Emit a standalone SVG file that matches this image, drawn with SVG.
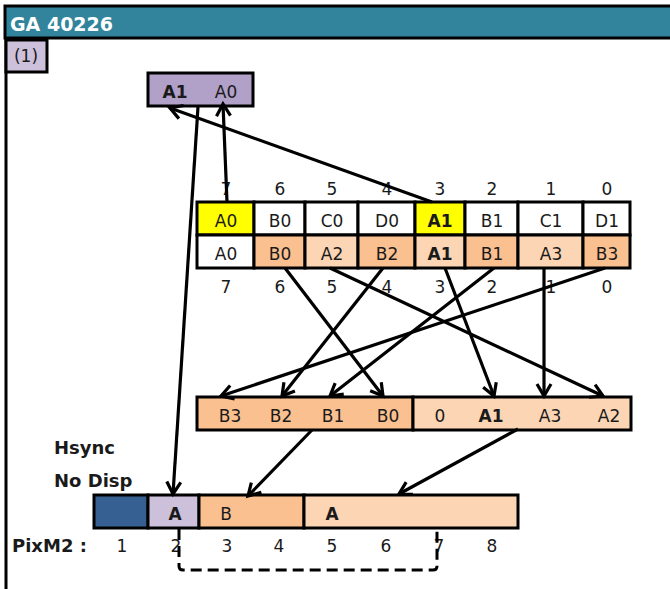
<svg xmlns="http://www.w3.org/2000/svg" width="670" height="589" viewBox="0 0 670 589">
<style>
.t{font-family:"DejaVu Sans",sans-serif;font-size:17px;fill:#1a1a1a;text-anchor:middle}
.b{font-weight:bold}
.l{font-family:"DejaVu Sans",sans-serif;font-size:18px;font-weight:bold;fill:#1a1a1a}
.bx{stroke:#000;stroke-width:3}
.ln{stroke:#000;stroke-width:3.2;fill:none;marker-end:url(#ah)}
</style>
<defs>
<marker id="ah" markerUnits="userSpaceOnUse" markerWidth="30" markerHeight="30" refX="0" refY="0" orient="auto" overflow="visible">
<path d="M-12,-7 L0,0 L-12,7" fill="none" stroke="#000" stroke-width="3.2" stroke-linejoin="miter"/>
</marker>
</defs>
<rect width="670" height="589" fill="#fff"/>
<g id="header">
<rect x="5" y="6" width="667" height="32" fill="#31849B" stroke="#000" stroke-width="3"/>
<text x="10" y="31" style="font-family:'DejaVu Sans',sans-serif;font-size:19px;font-weight:bold;fill:#fff">GA 40226</text>
</g>
<line x1="6" y1="38" x2="6" y2="589" stroke="#000" stroke-width="3"/>
<g id="step">
<rect x="6" y="40" width="41" height="32" fill="#CCC0DA" class="bx"/>
<text x="26" y="62" class="t">(1)</text>
</g>
<g id="topbox">
<rect x="148" y="73" width="105" height="33" fill="#B1A0C7" class="bx"/>
<text x="175" y="98" class="t b">A1</text>
<text x="226" y="98" class="t">A0</text>
</g>
<g id="table">
<g class="bx">
<rect x="197" y="202" width="57" height="33" fill="#FFFF00"/>
<rect x="254" y="202" width="51" height="33" fill="#fff"/>
<rect x="305" y="202" width="53" height="33" fill="#fff"/>
<rect x="358" y="202" width="57" height="33" fill="#fff"/>
<rect x="415" y="202" width="50" height="33" fill="#FFFF00"/>
<rect x="465" y="202" width="53" height="33" fill="#fff"/>
<rect x="518" y="202" width="65" height="33" fill="#fff"/>
<rect x="583" y="202" width="47" height="33" fill="#fff"/>
<rect x="197" y="235" width="57" height="33" fill="#fff"/>
<rect x="254" y="235" width="51" height="33" fill="#FAC090"/>
<rect x="305" y="235" width="53" height="33" fill="#FCD5B4"/>
<rect x="358" y="235" width="57" height="33" fill="#FAC090"/>
<rect x="415" y="235" width="50" height="33" fill="#FCD5B4"/>
<rect x="465" y="235" width="53" height="33" fill="#FAC090"/>
<rect x="518" y="235" width="65" height="33" fill="#FCD5B4"/>
<rect x="583" y="235" width="47" height="33" fill="#FAC090"/>
</g>
<text x="226" y="195" class="t">7</text><text x="280" y="195" class="t">6</text><text x="332" y="195" class="t">5</text><text x="387" y="195" class="t">4</text><text x="440" y="195" class="t">3</text><text x="492" y="195" class="t">2</text><text x="551" y="195" class="t">1</text><text x="607" y="195" class="t">0</text>
<text x="226" y="227" class="t">A0</text><text x="280" y="227" class="t">B0</text><text x="332" y="227" class="t">C0</text><text x="387" y="227" class="t">D0</text><text x="440" y="227" class="t b">A1</text><text x="492" y="227" class="t">B1</text><text x="551" y="227" class="t">C1</text><text x="607" y="227" class="t">D1</text>
<text x="226" y="260" class="t">A0</text><text x="280" y="260" class="t">B0</text><text x="332" y="260" class="t">A2</text><text x="387" y="260" class="t">B2</text><text x="440" y="260" class="t b">A1</text><text x="492" y="260" class="t">B1</text><text x="551" y="260" class="t">A3</text><text x="607" y="260" class="t">B3</text>
<text x="226" y="293" class="t">7</text><text x="280" y="293" class="t">6</text><text x="332" y="293" class="t">5</text><text x="387" y="293" class="t">4</text><text x="440" y="293" class="t">3</text><text x="492" y="293" class="t">2</text><text x="551" y="293" class="t">1</text><text x="607" y="293" class="t">0</text>
</g>
<g id="midrow">
<rect x="197" y="397" width="216" height="33" fill="#FAC090" class="bx"/>
<rect x="413" y="397" width="218" height="33" fill="#FCD5B4" class="bx"/>
<text x="230" y="422" class="t">B3</text><text x="281" y="422" class="t">B2</text><text x="333" y="422" class="t">B1</text><text x="388" y="422" class="t">B0</text>
<text x="440" y="422" class="t">0</text><text x="491" y="422" class="t b">A1</text><text x="550" y="422" class="t">A3</text><text x="609" y="422" class="t">A2</text>
</g>
<g id="labels">
<text x="54" y="454" class="l">Hsync</text>
<text x="54" y="487" class="l">No Disp</text>
<text x="12" y="552" class="l">PixM2 :</text>
</g>
<g id="bar">
<rect x="94" y="495" width="54" height="33" fill="#366092" class="bx"/>
<rect x="148" y="495" width="51" height="33" fill="#CCC0DA" class="bx"/>
<rect x="199" y="495" width="105" height="33" fill="#FAC090" class="bx"/>
<rect x="304" y="495" width="214" height="33" fill="#FCD5B4" class="bx"/>
<text x="175" y="520" class="t b">A</text><text x="226" y="520" class="t">B</text><text x="332" y="520" class="t b">A</text>
<text x="122" y="552" class="t">1</text><text x="176" y="552" class="t">2</text><text x="227" y="552" class="t">3</text><text x="279" y="552" class="t">4</text><text x="332" y="552" class="t">5</text><text x="386" y="552" class="t">6</text><text x="439" y="552" class="t">7</text><text x="492" y="552" class="t">8</text>
</g>
<g id="connectors">
<line class="ln" x1="432" y1="202" x2="170" y2="108"/>
<line class="ln" x1="227" y1="202" x2="223" y2="104"/>
<line class="ln" x1="198" y1="107" x2="173" y2="494"/>
<line class="ln" x1="285" y1="268" x2="383" y2="396"/>
<line class="ln" x1="330" y1="268" x2="603" y2="396"/>
<line class="ln" x1="383" y1="268" x2="282" y2="396"/>
<line class="ln" x1="445" y1="268" x2="494" y2="396"/>
<line class="ln" x1="494" y1="268" x2="330" y2="396"/>
<line class="ln" x1="544" y1="268" x2="544" y2="396"/>
<line class="ln" x1="605" y1="268" x2="221" y2="396"/>
<line class="ln" x1="312" y1="430" x2="248" y2="496"/>
<line class="ln" x1="518" y1="429" x2="399" y2="494"/>
<path d="M179,529 L179,566 Q179,570 183,570 L433,570 Q437,570 437,566 L437,529" fill="none" stroke="#000" stroke-width="3" stroke-dasharray="11,6"/>
</g>
</svg>
